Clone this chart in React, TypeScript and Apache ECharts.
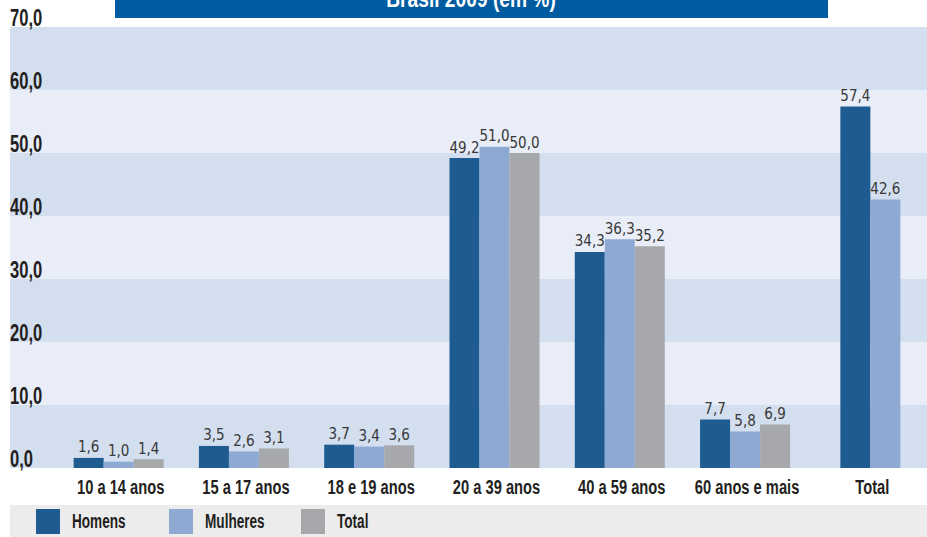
import React, { useEffect, useRef } from "react";
import * as echarts from "echarts";

const categories = ["10 a 14 anos", "15 a 17 anos", "18 e 19 anos", "20 a 39 anos", "40 a 59 anos", "60 anos e mais", "Total"];
const homens = [1.6, 3.5, 3.7, 49.2, 34.3, 7.7, 57.4];
const mulheres = [1.0, 2.6, 3.4, 51.0, 36.3, 5.8, 42.6];
const total = [1.4, 3.1, 3.6, 50.0, 35.2, 6.9, null];
const yTickValues = [0, 10, 20, 30, 40, 50, 60, 70];
const yTickLabels = ["0,0", "10,0", "20,0", "30,0", "40,0", "50,0", "60,0", "70,0"];
const legendNames = ["Homens", "Mulheres", "Total"];
const titleText = "Brasil 2009 (em %)";

const BOLD_FONT = "'Liberation Sans', Arial, sans-serif";
const VAL_FONT = "'DejaVu Sans Condensed', 'DejaVu Sans', sans-serif";
const C_H = "#1e5b91";
const C_M = "#8eaad3";
const C_T = "#a7a8ab";
const seriesColors = [C_H, C_M, C_T];
const TXT = "#231f20";

const fmt = (v: number) => v.toFixed(1).replace(".", ",");

export default function App() {
  const ref = useRef<HTMLDivElement>(null);
  useEffect(() => {
    document.body.style.margin = "0";
    const chart = echarts.init(ref.current!, null, { renderer: "svg" });
    const lastIdx = categories.length - 1;
    const mainData = (arr: (number | null)[]) => arr.map((v, i) => (i === lastIdx || v == null ? "-" : v));
    const totData = (arr: (number | null)[]) => arr.map((v, i) => (i === lastIdx && v != null ? v : "-"));
    const label = {
      show: true,
      position: "top",
      distance: 3,
      fontFamily: VAL_FONT,
      fontSize: 15,
      color: "#383838",
      formatter: (p: any) => fmt(p.value),
    };
    const bar = (name: string, color: string, data: any[], xi: number) => ({
      name,
      type: "bar",
      xAxisIndex: xi,
      yAxisIndex: 1,
      data,
      barWidth: 30,
      barGap: "0%",
      itemStyle: { color },
      label,
      z: 3,
    });
    chart.setOption({
      animation: false,
      grid: [
        { left: 10, right: 6, top: 27, bottom: 69 },
        { left: 56, right: 0, top: 27, bottom: 69 },
      ],
      xAxis: [
        {
          type: "category",
          gridIndex: 1,
          position: "bottom",
          data: categories,
          axisLine: { show: false },
          axisTick: { show: false },
          axisLabel: { show: false },
        },
        { type: "category", gridIndex: 1, position: "top", data: categories, show: false },
        { type: "category", gridIndex: 0, data: [""], show: false },
      ],
      yAxis: [
        {
          type: "value",
          gridIndex: 0,
          min: 0,
          max: 70,
          interval: 10,
          axisLine: { show: false },
          axisTick: { show: false },
          splitLine: { show: false },
          splitArea: { show: true, areaStyle: { color: ["#d3deef", "#e9edf7"] } },
          axisLabel: { show: false },
        },
        { type: "value", gridIndex: 1, min: 0, max: 70, interval: 10, show: false, splitLine: { show: false } },
      ],
      series: [
        bar("Homens", C_H, mainData(homens), 0),
        bar("Mulheres", C_M, mainData(mulheres), 0),
        bar("Total", C_T, mainData(total), 0),
        bar("Homens", C_H, totData(homens), 1),
        bar("Mulheres", C_M, totData(mulheres), 1),
      ],
    });

    const graphics: any[] = [];
    graphics.push({ type: "rect", left: 10, top: 505, shape: { width: 917, height: 32 }, style: { fill: "#ececec" }, z: -10 });
    graphics.push({ type: "rect", left: 115, top: 0, shape: { width: 713, height: 18 }, style: { fill: "#005ca1" }, z: 10 });
    graphics.push({
      type: "text",
      x: 471,
      y: 11,
      z: 11,
      scaleX: 0.8,
      style: { text: titleText, fill: "#ffffff", font: `bold 24px ${BOLD_FONT}`, align: "center", verticalAlign: "bottom" },
    });
    yTickValues.forEach((v, i) => {
      const py = chart.convertToPixel({ yAxisIndex: 0 }, v) as number;
      graphics.push({
        type: "text",
        x: 10,
        y: py + 2,
        z: 12,
        scaleX: 0.72,
        style: { text: yTickLabels[i], fill: TXT, font: `bold 23px ${BOLD_FONT}`, align: "left", verticalAlign: "bottom" },
      });
    });
    categories.forEach((c, i) => {
      const px = chart.convertToPixel({ xAxisIndex: 0 }, i) as number;
      graphics.push({
        type: "text",
        x: px + 2,
        y: 487,
        z: 12,
        scaleX: 0.7,
        style: { text: c, fill: TXT, font: `bold 21px ${BOLD_FONT}`, align: "center", verticalAlign: "middle" },
      });
    });
    const legendLeft = [36, 169, 301];
    legendNames.forEach((n, i) => {
      graphics.push({ type: "rect", left: legendLeft[i], top: 509, shape: { width: 24, height: 25 }, style: { fill: seriesColors[i] }, z: 12 });
      graphics.push({
        type: "text",
        x: legendLeft[i] + 36,
        y: 522,
        z: 12,
        scaleX: 0.68,
        style: { text: n, fill: TXT, font: `bold 20px ${BOLD_FONT}`, align: "left", verticalAlign: "middle" },
      });
    });
    chart.setOption({ graphic: graphics });
    return () => chart.dispose();
  }, []);
  return (
    <div style={{ width: 927, height: 537, overflow: "hidden" }}>
      <div ref={ref} style={{ width: 933, height: 537 }} />
    </div>
  );
}
